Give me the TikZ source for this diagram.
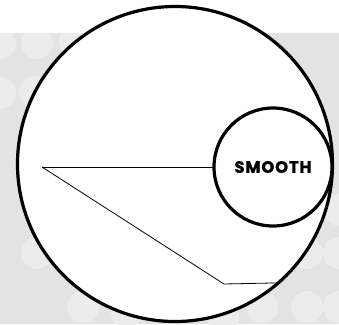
\documentclass[tikz,border=0pt]{standalone}
\usepackage{fontspec}
\newfontfamily\labelfont{Poppins Bold}[LetterSpace=5,FakeBold=1]
\usetikzlibrary{positioning}
\definecolor{bggray}{RGB}{227,227,227}
\definecolor{dotgray}{RGB}{236,236,236}
\tikzset{
  ring/.style  = {circle, draw, line width=3.2pt, fill=white,
                  inner sep=0pt, outer sep=0pt},
  lead/.style  = {line width=0.8pt},
  bgdot/.style = {fill=dotgray},
}
\begin{document}
\begin{tikzpicture}[x=1pt,y=-1pt]
\useasboundingbox (0,0) rectangle (339,324);

%% ── Background ────────────────────────────────────────────────────────────
\fill[bggray] (0,33) rectangle (339,324);
\begin{scope}
  \clip (0,33) rectangle (339,324);
  \foreach \dx/\dy in {0/43, 37/43, 75/41, 0/93, 35/92, 340/210,
                       37/253, 307/253, 339/253,
                       83/307, 127/312, 223/317, 262/307, 307/307, 339/307}
    \fill[bgdot] (\dx,\dy) circle[radius=16];
\end{scope}

%% ── Circles ───────────────────────────────────────────────────────────────
\node[ring, minimum size=315pt] (lens) at (175,164) {};
\node[ring, minimum size=118pt,
      font=\labelfont\fontsize{16.5}{16.5}\selectfont]
  (smooth) at (273,167) {SMOOTH};

%% ── Leader lines ──────────────────────────────────────────────────────────
\coordinate (tip)  at (42,167);
\coordinate (knee) at (224,284);
\draw[lead] (tip) -- (smooth.west);
\draw[lead] (tip) -- (knee) -- (lens.-49.8);

\end{tikzpicture}
\end{document}
